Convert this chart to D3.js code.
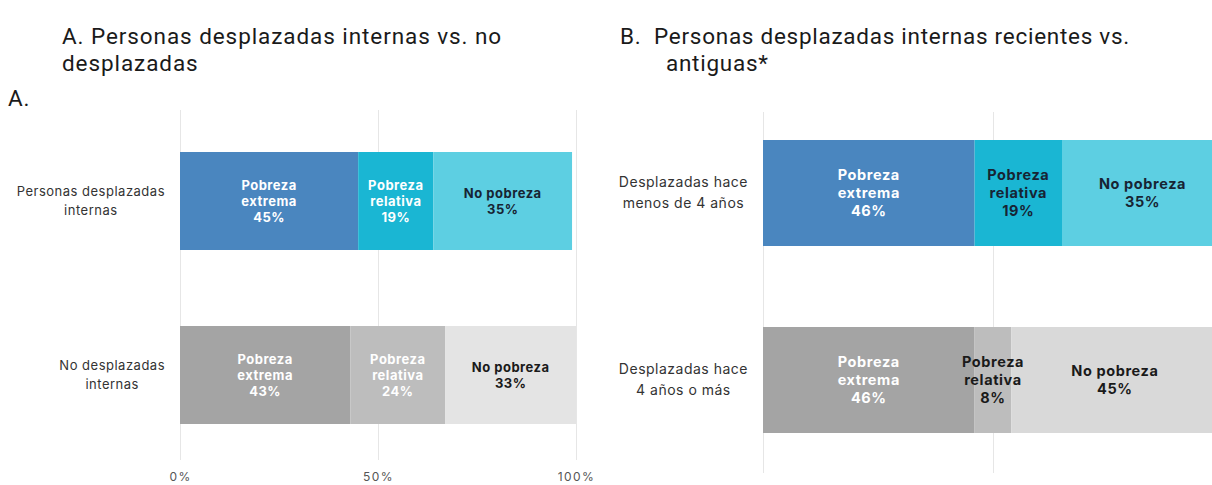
<!DOCTYPE html>
<html>
<head>
<meta charset="utf-8">
<script src="https://cdn.jsdelivr.net/npm/d3@7"></script>
<style>
  html, body { margin: 0; padding: 0; background: #ffffff; }
  svg { display: block; }
</style>
</head>
<body>
<svg id="chart" width="1212" height="485"></svg>
<script>
// Poverty status shares (%) by displacement group
const seriesNames = ["Pobreza extrema", "Pobreza relativa", "No pobreza"];
const segmentLines = [["Pobreza", "extrema"], ["Pobreza", "relativa"], ["No pobreza"]];

const categoriesA = [["Personas desplazadas", "internas"], ["No desplazadas", "internas"]];
const valuesA = [[45, 19, 35], [43, 24, 33]];

const categoriesB = [["Desplazadas hace", "menos de 4 años"], ["Desplazadas hace", "4 años o más"]];
const valuesB = [[46, 19, 35], [46, 8, 45]];

const tickValues = [0, 50, 100];
const tickLabels = ["0%", "50%", "100%"];

const svg = d3.select("#chart");
const labelFont = "Inter, 'Open Sans', sans-serif";
const titleFont = "Roboto, 'Noto Sans', sans-serif";

// spread a text line's letters so that it spans the given width
function spreadTo(sel, width) {
  const node = sel.node();
  const natural = node.getComputedTextLength();
  const n = node.textContent.length;
  sel.attr("letter-spacing", ((width - natural) / n).toFixed(2));
}

// Panel titles
function titleLine(text, x, y, width) {
  const t = svg.append("text")
    .attr("x", x).attr("y", y)
    .style("white-space", "pre")
    .attr("font-family", titleFont).attr("font-size", 22.5)
    .attr("fill", "#1a1a1a").text(text);
  if (width) spreadTo(t, width);
  return t;
}
const tA = titleLine("A. Personas desplazadas internas vs. no", 62, 44, 440);
const lsA = tA.attr("letter-spacing");
titleLine("desplazadas", 62, 71).attr("letter-spacing", lsA);
const tB = titleLine("B.  Personas desplazadas internas recientes vs.", 620, 44, 510);
titleLine("antiguas*", 666, 71).attr("letter-spacing", tB.attr("letter-spacing"));
titleLine("A.", 8, 106).attr("letter-spacing", lsA);

// Colour schemes per row
const blues = ["#4a86bf", "#1ab6d3", "#5dcfe2"];
const greys = ["#a4a4a4", "#bdbdbd", "#e4e4e4"];
const greysB = ["#a4a4a4", "#bdbdbd", "#d9d9d9"];

function panel(opts) {
  const { x0, x1, gridTop, gridBottom, rows, categories, values, palettes, textColors,
          showTicks, labelRight, barFont, barLine, catFont, catLine } = opts;
  const x = d3.scaleLinear().domain([0, 100]).range([x0, x1]);
  const g = svg.append("g");

  // vertical gridlines
  g.selectAll("line.grid").data(tickValues).join("line")
    .attr("class", "grid")
    .attr("x1", d => x(d) + 0.5).attr("x2", d => x(d) + 0.5)
    .attr("y1", gridTop).attr("y2", gridBottom)
    .attr("stroke", "#e6e6e6").attr("stroke-width", 1);

  if (showTicks) {
    const axis = d3.axisBottom(x).tickValues(tickValues)
      .tickFormat((d, i) => tickLabels[i]).tickSize(0).tickPadding(0);
    const ax = g.append("g").attr("transform", `translate(0,${opts.tickY})`).call(axis);
    ax.select(".domain").remove();
    ax.selectAll("text").attr("font-family", labelFont).attr("font-size", 12)
      .attr("letter-spacing", 1.4).attr("fill", "#555").attr("dy", 0);
  }

  values.forEach((vals, r) => {
    const { top, bottom } = rows[r];
    const cy = (top + bottom) / 2;
    const stack = d3.stack().keys(d3.range(vals.length))([vals])
      .map((s, i) => ({ i, a: s[0][0], b: s[0][1], v: vals[i] }));

    g.selectAll(null).data(stack).join("rect")
      .attr("x", d => x(d.a)).attr("width", d => x(d.b) - x(d.a))
      .attr("y", top).attr("height", bottom - top)
      .attr("fill", d => palettes[r][d.i]);

    stack.forEach(d => {
      const lines = segmentLines[d.i].concat([d.v + "%"]);
      const cx = (x(d.a) + x(d.b)) / 2;
      const t = g.append("text")
        .attr("text-anchor", "middle")
        .attr("font-family", labelFont).attr("font-weight", 700)
        .attr("font-size", barFont.size).attr("letter-spacing", barFont.spacing)
        .attr("fill", textColors[r][d.i]);
      const start = cy - (lines.length - 1) * barLine / 2;
      lines.forEach((l, k) => {
        t.append("tspan").attr("x", cx).attr("y", start + k * barLine).attr("dy", "0.35em").text(l);
      });
    });

    // category label: lines centred within a block right-aligned to labelRight
    const cat = g.append("text").attr("text-anchor", "middle")
      .attr("font-family", labelFont).attr("font-size", catFont.size)
      .attr("letter-spacing", catFont.spacing).attr("fill", "#333");
    const spans = categories[r].map((l, k) =>
      cat.append("tspan").attr("y", cy + (k - 0.5) * catLine).attr("dy", "0.35em").text(l));
    const w = d3.max(spans, s => s.node().getComputedTextLength());
    spans.forEach(s => s.attr("x", labelRight - w / 2));
  });
}

const white = "#ffffff", dark = "#172433", black = "#1a1a1a";

panel({
  x0: 180, x1: 576, gridTop: 110, gridBottom: 460, tickY: 481,
  rows: [{ top: 152, bottom: 250 }, { top: 326, bottom: 424 }],
  categories: categoriesA, values: valuesA,
  palettes: [blues, greys],
  textColors: [[white, white, dark], [white, white, black]],
  showTicks: true, labelRight: 165,
  barFont: { size: 13, spacing: 0.5 }, barLine: 16,
  catFont: { size: 13, spacing: 0.5 }, catLine: 19
});

panel({
  x0: 763, x1: 1223, gridTop: 112, gridBottom: 473,
  rows: [{ top: 140, bottom: 246 }, { top: 327, bottom: 433 }],
  categories: categoriesB, values: valuesB,
  palettes: [blues, greysB],
  textColors: [[white, dark, dark], [white, black, black]],
  showTicks: false, labelRight: 748,
  barFont: { size: 14.5, spacing: 0.6 }, barLine: 18,
  catFont: { size: 14, spacing: 0.5 }, catLine: 21
});
</script>
</body>
</html>
